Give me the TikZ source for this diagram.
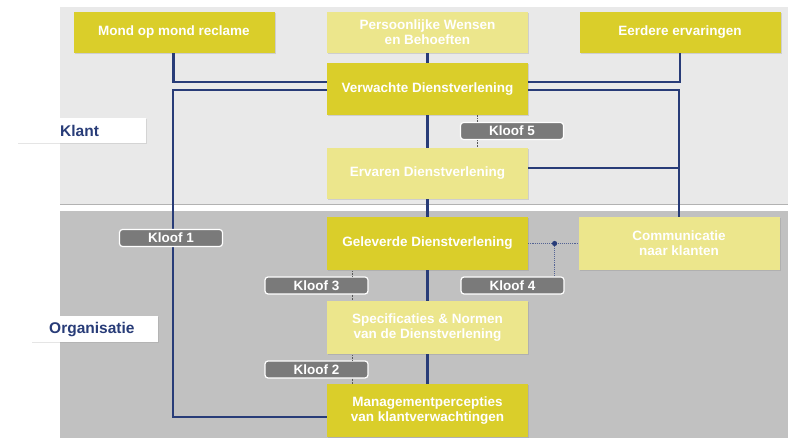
\documentclass[tikz,border=0pt]{standalone}
\usepackage{fontspec}
\setmainfont{Liberation Sans}
\usetikzlibrary{shadows}
\definecolor{dyel}{RGB}{218,206,42}
\definecolor{lyel}{RGB}{236,230,140}
\definecolor{lgray}{RGB}{233,233,233}
\definecolor{dgray}{RGB}{193,193,193}
\definecolor{navy}{RGB}{40,60,120}
\definecolor{kgray}{RGB}{122,122,122}
\begin{document}
\begin{tikzpicture}[x=1pt,y=-1pt,
  box/.style={minimum width=201pt, inner sep=0pt, align=center, text=white,
    font=\bfseries\fontsize{13.5}{15}\selectfont,
    drop shadow={shadow xshift=1pt,shadow yshift=-1.2pt,opacity=0.25}},
  dbox/.style={box, fill=dyel},
  lbox/.style={box, fill=lyel},
  kloof/.style={draw=white, line width=1.2pt, fill=kgray, rounded corners=3pt,
    minimum width=103pt, minimum height=17pt, inner sep=0pt, text=white,
    font=\bfseries\fontsize{13.5}{14}\selectfont},
  side/.style={fill=white, inner sep=0pt,
    drop shadow={shadow xshift=1pt,shadow yshift=-1.2pt,opacity=0.2}},
  sidetext/.style={text=navy, font=\bfseries\fontsize{15.5}{17}\selectfont, anchor=west, inner sep=0pt},
  link/.style={draw=navy, line width=2.6pt},
  tick/.style={draw=gray!70!black, line width=0.6pt, densely dotted},
  dlink/.style={draw=navy!80, line width=1.1pt, densely dotted}]
\useasboundingbox (0,0) rectangle (788,438);
\fill[white] (0,0) rectangle (788,438);
\fill[lgray] (60,7) rectangle (788,204);
\draw[gray!60, line width=0.8pt] (60,204) -- (788,204);
\fill[dgray] (60,211) rectangle (788,438);

% side labels
\node[side, minimum width=129pt, minimum height=25pt] (klant) at (81.5,130.5) {};
\node[sidetext] (klantt) at (60,131) {Klant};
\node[side, minimum width=127pt, minimum height=26pt] (org) at (94.5,329) {};
\node[sidetext] (orgt) at (49,329.5) {Organisatie};

% boxes
\node[dbox, minimum height=41pt] (mond) at (174,32.5) {Mond op mond reclame};
\node[lbox, minimum height=41pt] (pers) at (427.5,32.5) {Persoonlijke Wensen\\en Behoeften};
\node[dbox, minimum height=41pt] (eerd) at (680,32.5) {Eerdere ervaringen};
\node[dbox, minimum height=52pt] (verw) at (427.5,89) {Verwachte Dienstverlening};
\node[lbox, minimum height=51pt] (erv) at (427.5,173.5) {Ervaren Dienstverlening};
\node[dbox, minimum height=53pt] (gel) at (427.5,243.5) {Geleverde Dienstverlening};
\node[lbox, minimum height=53pt] (comm) at (679,243.5) {Communicatie\\naar klanten};
\node[lbox, minimum height=53pt] (spec) at (427.5,327.5) {Specificaties \& Normen\\van de Dienstverlening};
\node[dbox, minimum height=53pt] (man) at (427.5,410.5) {Managementpercepties\\van klantverwachtingen};

% connectors
\coordinate (c1) at (173,417);
\draw[link] ([xshift=-0.5pt]mond.south) |- ([yshift=7pt]verw.west);
\draw[link] ([yshift=-1pt]verw.west) -| (c1) -- (c1 -| man.west);
\draw[link] (eerd.south) |- ([yshift=7pt]verw.east);
\draw[link] ([yshift=-1pt]verw.east) -| (comm.north);
\draw[link] ([yshift=5.5pt]erv.east) -- ([yshift=5.5pt]erv.east -| comm.north);
\draw[link] (pers.south) -- (verw.north);
\draw[link] (verw.south) -- (erv.north);
\draw[link] (erv.south) -- (gel.north);
\draw[link] (gel.south) -- (spec.north);
\draw[link] (spec.south) -- (man.north);

% kloof boxes
\node[kloof] (k5) at (512,131) {Kloof 5};
\node[kloof] (k1) at (171,238) {Kloof 1};
\node[kloof] (k3) at (316.5,285.5) {Kloof 3};
\node[kloof] (k2) at (316.5,369.5) {Kloof 2};
\node[kloof] (k4) at (512.5,285.5) {Kloof 4};

% dotted ticks
\draw[tick] ([xshift=17pt]k5.north west) -- ([xshift=17pt]k5.north west |- verw.south);
\draw[tick] ([xshift=17pt]k5.south west) -- ([xshift=17pt]k5.south west |- erv.north);
\draw[tick] ([xshift=-16pt]k3.north east) -- ([xshift=-16pt]k3.north east |- gel.south);
\draw[tick] ([xshift=-16pt]k3.south east) -- ([xshift=-16pt]k3.south east |- spec.north);
\draw[tick] ([xshift=-16pt]k2.north east) -- ([xshift=-16pt]k2.north east |- spec.south);
\draw[tick] ([xshift=-16pt]k2.south east) -- ([xshift=-16pt]k2.south east |- man.north);

% kloof 4 link
\coordinate (d4) at ([xshift=-10pt]k4.north east |- gel.east);
\draw[dlink] (gel.east) -- (comm.west);
\draw[dlink] (d4) -- ([xshift=-10pt]k4.north east);
\fill[navy] (d4) circle (2.6pt);
\end{tikzpicture}
\end{document}
